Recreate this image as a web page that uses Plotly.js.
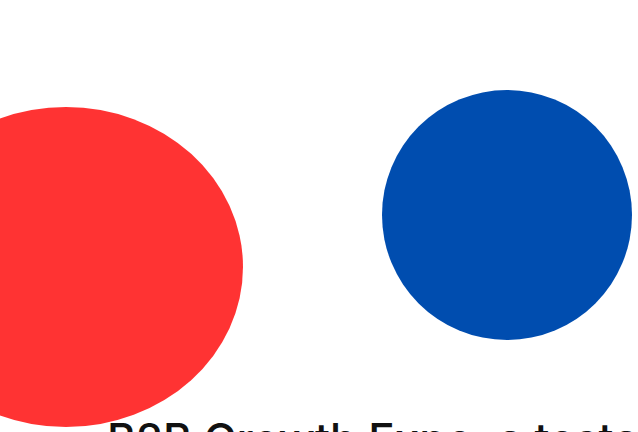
<!DOCTYPE html>
<html>
<head>
<meta charset="utf-8">
<script src="https://cdn.plot.ly/plotly-3.0.1.min.js"></script>
<style>html,body{margin:0;padding:0;background:#fff;}#chart{width:638px;height:432px;}</style>
</head>
<body>
<div id="chart"></div>
<script>
// Data
const labels = ["Red", "Blue"];
const centerX = [66, 507];
const centerY = [267, 215];
const radiusX = [177, 125];
const radiusY = [160, 125];
const colors = ["#ff3333", "#004daf"];
const captionText = "B2B Growth Expo, a testament to innovation";

const shapes = labels.map((l, i) => ({
  type: "circle",
  xref: "x", yref: "y",
  x0: centerX[i] - radiusX[i], x1: centerX[i] + radiusX[i],
  y0: centerY[i] - radiusY[i], y1: centerY[i] + radiusY[i],
  fillcolor: colors[i],
  line: {width: 0},
  layer: "above"
}));

const layout = {
  width: 638, height: 432,
  margin: {l: 0, r: 0, t: 0, b: 0},
  paper_bgcolor: "#ffffff",
  plot_bgcolor: "#ffffff",
  showlegend: false,
  xaxis: {range: [0, 638], visible: false, fixedrange: true},
  yaxis: {range: [432, 0], visible: false, fixedrange: true},
  shapes: shapes,
  annotations: [{
    xref: "x", yref: "y",
    x: 105, y: 410,
    xanchor: "left", yanchor: "top",
    text: captionText,
    showarrow: false,
    font: {family: "Inter, Lato, sans-serif", size: 44, weight: 500, color: "#111111"}
  }]
};

Plotly.newPlot("chart", [{x: [], y: [], type: "scatter", hoverinfo: "skip"}], layout, {staticPlot: true, displayModeBar: false});
</script>
</body>
</html>
